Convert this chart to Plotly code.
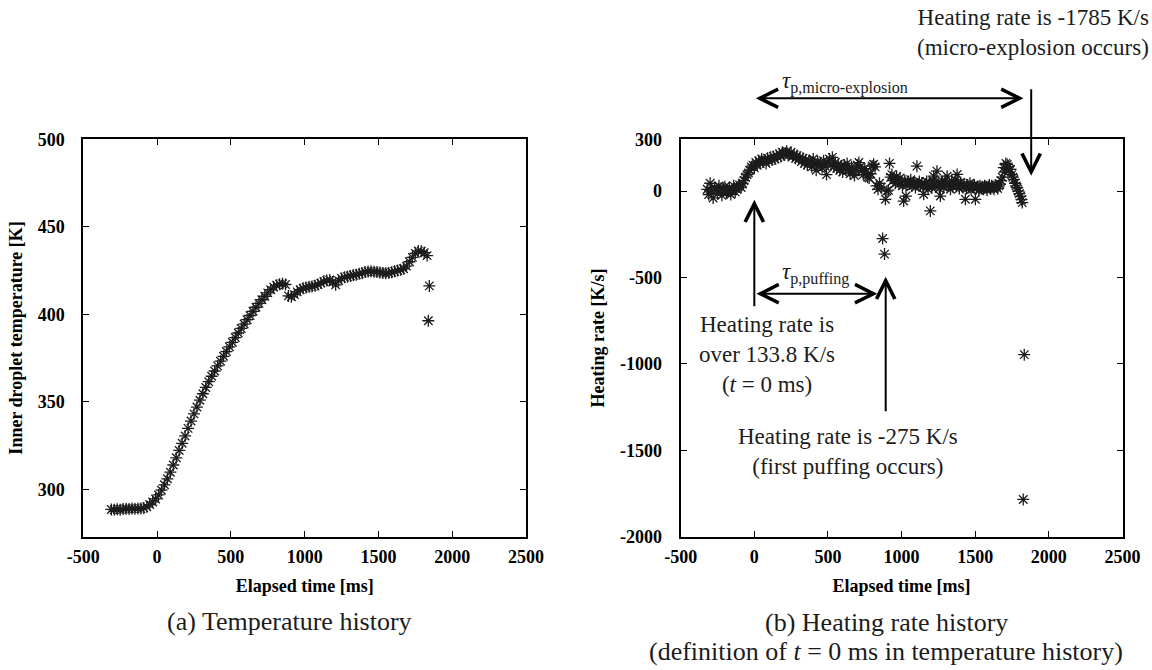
import plotly.graph_objects as go

# ---------------- data ----------------
# (a) inner droplet temperature [K] vs elapsed time [ms]
time_temp = [
    -310, -290, -270, -250, -230, -210, -190, -170, -150, -130, -110, -90, -70,
    -50, -30, -10, 10, 30, 50, 70, 90, 110, 130, 150, 170, 190, 210, 230, 250,
    270, 290, 310, 330, 350, 370, 390, 410, 430, 450, 470, 490, 510, 530, 550,
    570, 590, 610, 630, 650, 670, 690, 710, 730, 750, 770, 790, 810, 830, 850,
    870, 890, 910, 930, 950, 970, 990, 1010, 1030, 1050, 1070, 1090, 1110, 1130,
    1150, 1170, 1190, 1210, 1230, 1250, 1270, 1290, 1310, 1330, 1350, 1370, 1390,
    1410, 1430, 1450, 1470, 1490, 1510, 1530, 1550, 1570, 1590, 1610, 1630, 1650,
    1670, 1690, 1710, 1730, 1750, 1770, 1790, 1810, 1830, 1838, 1845,
]
temp = [
    288.5, 288.3, 288.6, 288.4, 288.7, 288.9, 288.8, 289.0, 288.9, 289.1, 289.0,
    289.4, 290.0, 291.3, 292.8, 294.5, 296.8, 299.5, 302.6, 306.0, 309.8, 313.9,
    318.0, 322.2, 326.3, 330.5, 334.8, 339.0, 343.1, 347.0, 350.9, 354.6, 358.2,
    361.5, 364.6, 367.6, 370.5, 373.2, 376.0, 378.7, 381.4, 384.0, 386.7, 389.3,
    391.9, 394.4, 396.9, 399.3, 401.7, 404.0, 406.2, 408.3, 410.3, 412.2, 414.0,
    415.5, 416.6, 417.2, 417.4, 417.0, 410.5, 410.0, 411.2, 412.8, 414.0, 414.9,
    415.3, 415.7, 415.9, 416.3, 417.0, 417.8, 418.8, 419.3, 419.6, 418.4, 416.8,
    419.2, 420.5, 421.2, 421.5, 421.9, 422.3, 422.6, 423.1, 423.5, 424.1, 424.4,
    424.5, 424.3, 424.2, 423.9, 423.6, 423.4, 423.6, 424.0, 424.5, 425.0, 425.4,
    426.0, 427.5, 430.0, 432.5, 434.8, 436.2, 436.0, 435.2, 433.5, 396.3, 416.2,
]

# (b) heating rate [K/s] vs elapsed time [ms]
time_rate = [
    -320, -310, -300, -290, -280, -270, -260, -250, -240, -230, -220, -210, -200,
    -190, -180, -170, -160, -150, -140, -130, -120, -110,
    -100, -90, -80, -70, -60, -50, -40, -30, -20, -10, 0, 10, 20, 30, 40, 50, 60,
    70, 80, 90, 100, 110, 120, 130, 140, 150, 160, 170, 180, 190, 200, 210, 220,
    230, 240, 250, 260, 270, 280, 290, 300, 310, 320, 330, 340, 350, 360, 370,
    380, 390, 400, 410, 420, 430, 440, 450, 460, 470, 480, 490, 500, 510, 520,
    530, 540, 550, 560, 570, 580, 590, 600, 610, 620, 630, 640, 650, 660, 670,
    680, 690, 700, 710, 720, 730, 740, 750, 760, 770, 780, 790, 800, 810, 820,
    830, 840, 850, 860, 871, 884, 890, 900, 910, 918, 926, 934, 942, 950, 958,
    966, 974, 982, 990, 998, 1006, 1014, 1022, 1030, 1038, 1046, 1054, 1062,
    1070, 1078, 1086, 1094, 1104, 1112, 1120, 1128, 1136, 1144, 1150, 1160, 1170,
    1180, 1188, 1195, 1204, 1212, 1218, 1226, 1234, 1240, 1248, 1256, 1263, 1270,
    1278, 1286, 1294, 1302, 1309, 1316, 1324, 1332, 1340, 1348, 1356, 1364, 1372,
    1377, 1384, 1392, 1400, 1408, 1416, 1424, 1433, 1440, 1448, 1456, 1464, 1472,
    1480, 1488, 1494, 1501, 1508, 1516, 1524, 1532, 1540, 1548, 1556, 1564, 1572,
    1580, 1588, 1596, 1604, 1612, 1620, 1628, 1636, 1644, 1652, 1660, 1668, 1676,
    1684, 1694, 1700, 1708, 1717, 1724, 1732, 1740, 1748, 1755, 1762, 1770, 1778,
    1785, 1792, 1800, 1808, 1814, 1819, 1826, 1833,
]
rate = [
    10, -20, 45, 0, -40, 20, 5, -15, 30, 10, -25, 15, 25, -10, 0, 20, -20, 5, 30,
    -5, 10, 25,
    35, 20, 45, 60, 80, 95, 105, 120, 140, 150, 134, 165, 150, 175, 160, 185, 170,
    180, 160, 190, 175, 195, 180, 200, 185, 205, 195, 215, 200, 225, 210, 220,
    230, 205, 215, 225, 200, 210, 190, 205, 185, 195, 170, 190, 160, 180, 150,
    175, 165, 140, 185, 155, 120, 170, 150, 160, 135, 175, 145, 95, 165, 185,
    150, 195, 140, 165, 130, 155, 120, 145, 110, 150, 135, 160, 125, 100, 140,
    115, 90, 120, 150, 165, 140, 120, 95, 130, 110, 80, 75, 100, 145, 155, 140,
    30, 10, 45, 20, -275, -365, -48, 0, 5, 160, 80, 95, 60, 70, 45, 85, 55, 40,
    75, 50, 30, -58, 60, -29, 35, 55, 40, 65, 30, 45, 50, 20, 144, 40, 55, 30,
    45, 25, -19, 40, 55, 10, 35, -115, 20, 60, 86, 40, 25, 115, 50, 15, -29, 40,
    55, 20, 60, 35, 86, 30, 45, 10, 55, 25, 40, 65, 30, 96, 45, 15, 50, 30, 20,
    40, -48, 15, 35, 20, 45, 10, 30, 20, 35, -48, 15, 25, 5, 30, 15, 25, 10, 30,
    20, 5, 25, 35, 15, 30, 20, 10, 35, 25, 15, 30, 40, 60, 80, 135, 110, 160, 154,
    140, 125, 125, 95, 80, 67, 45, 30, 19, 0, -15, -29, -50, -67, -1785, -947,
]

# event times [ms]
t_zero = 0
t_puffing = 892
t_micro_end = 1828
t_micro_mark = 1880

# tick values and their printed labels (plain hyphen for negatives)
temp_ticks = [300, 350, 400, 450, 500]
temp_tick_text = ["300", "350", "400", "450", "500"]
rate_ticks = [-2000, -1500, -1000, -500, 0, 300]
rate_tick_text = ["-2000", "-1500", "-1000", "-500", "0", "300"]
time_ticks = [-500, 0, 500, 1000, 1500, 2000, 2500]
time_tick_text = ["-500", "0", "500", "1000", "1500", "2000", "2500"]

# ---------------- layout helpers ----------------
W, H = 1152, 670
SERIF = "Liberation Serif"
INK = "#1c1c1c"


def px(p):
    return p / W


def py(p):
    return 1 - p / H


marker = dict(symbol="asterisk-open", size=10, color=INK,
              line=dict(width=1.3, color=INK))

fig = go.Figure()
fig.add_trace(go.Scatter(x=time_temp, y=temp, mode="markers", marker=marker,
                         xaxis="x", yaxis="y", showlegend=False))
fig.add_trace(go.Scatter(x=time_rate, y=rate, mode="markers", marker=marker,
                         xaxis="x2", yaxis="y2", showlegend=False))

axis_style = dict(
    showline=True, linecolor="black", linewidth=2, mirror="ticks",
    ticks="inside", ticklen=6, tickwidth=1.2, tickcolor="black",
    showgrid=False, zeroline=False, automargin=False,
    tickfont=dict(family=SERIF, size=18, color="black", weight="bold"),
)
title_font = dict(family=SERIF, size=18, color="black", weight="bold")

fig.update_layout(
    width=W, height=H,
    margin=dict(l=0, r=0, t=0, b=0),
    paper_bgcolor="white", plot_bgcolor="white",
    xaxis=dict(domain=[px(83.3), px(526)], range=[-500, 2500],
               tickvals=time_ticks, ticktext=time_tick_text, anchor="y",
               ticklabelstandoff=3,
               title=dict(text="Elapsed time [ms]", font=title_font, standoff=13),
               **axis_style),
    yaxis=dict(domain=[py(536.6), py(139.2)], range=[273, 500],
               tickvals=temp_ticks, ticktext=temp_tick_text, anchor="x",
               ticklabelstandoff=13,
               title=dict(text="Inner droplet temperature [K]", font=title_font,
                          standoff=10),
               **axis_style),
    xaxis2=dict(domain=[px(680.7), px(1122.5)], range=[-500, 2500],
                tickvals=time_ticks, ticktext=time_tick_text, anchor="y2",
                ticklabelstandoff=3,
                title=dict(text="Elapsed time [ms]", font=title_font, standoff=13),
                **axis_style),
    yaxis2=dict(domain=[py(536.6), py(139.2)], range=[-2000, 300],
                tickvals=rate_ticks, ticktext=rate_tick_text, anchor="x2",
                ticklabelstandoff=13,
                title=dict(text="Heating rate [K/s]", font=title_font, standoff=11),
                **axis_style),
)

note_font = dict(family=SERIF, size=23, color=INK)
caption_font = dict(family=SERIF, size=26, color=INK)
arrow = dict(showarrow=True, arrowhead=5, arrowsize=1.8, arrowwidth=2,
             arrowcolor="black", standoff=0, text="")
label = dict(xref="paper", yref="paper", showarrow=False,
             xanchor="center", yanchor="middle")

annotations = [
    # tau_p,micro-explosion span
    dict(x=t_micro_end, y=py(98.3), xref="x2", yref="paper",
         ax=t_zero, ay=0, axref="x2", ayref="pixel",
         arrowside="end+start", startarrowhead=5, startarrowsize=1.8, **arrow),
    # micro-explosion marker (pointing down)
    dict(x=t_micro_mark, y=88, xref="x2", yref="y2", ax=0, ay=-88, **arrow),
    # t = 0 marker (pointing up)
    dict(x=t_zero, y=-50, xref="x2", yref="y2", ax=0, ay=108, **arrow),
    # tau_p,puffing span
    dict(x=t_puffing - 57, y=-594, xref="x2", yref="y2",
         ax=t_zero + 4, ay=-594, axref="x2", ayref="y2",
         arrowside="end+start", startarrowhead=5, startarrowsize=1.8, **arrow),
    # first puffing marker (pointing up)
    dict(x=t_puffing, y=-496, xref="x2", yref="y2", ax=0, ay=136, **arrow),
    # labels
    dict(x=px(845), y=py(82), text="<i>τ</i><sub>p,micro-explosion</sub>",
         font=note_font, **label),
    dict(x=px(815), y=py(273), text="<i>τ</i><sub>p,puffing</sub>",
         font=note_font, **label),
    dict(x=px(767), y=py(354),
         text="Heating rate is<br>over 133.8 K/s<br>(<i>t</i> = 0 ms)",
         font=note_font, **label),
    dict(x=px(848), y=py(451),
         text="Heating rate is -275 K/s<br>(first puffing occurs)",
         font=note_font, **label),
    dict(x=px(1151), y=py(32), xref="paper", yref="paper", showarrow=False,
         xanchor="right", yanchor="middle", align="right",
         text="Heating rate is -1785 K/s<br>(micro-explosion occurs)",
         font=note_font),
    # panel captions
    dict(x=px(289), y=py(621), text="(a) Temperature history",
         font=caption_font, **label),
    dict(x=px(886), y=py(622), text="(b) Heating rate history",
         font=caption_font, **label),
    dict(x=px(886), y=py(651),
         text="(definition of <i>t</i> = 0 ms in temperature history)",
         font=caption_font, **label),
]
fig.update_layout(annotations=annotations)

fig.write_html("out.html")
